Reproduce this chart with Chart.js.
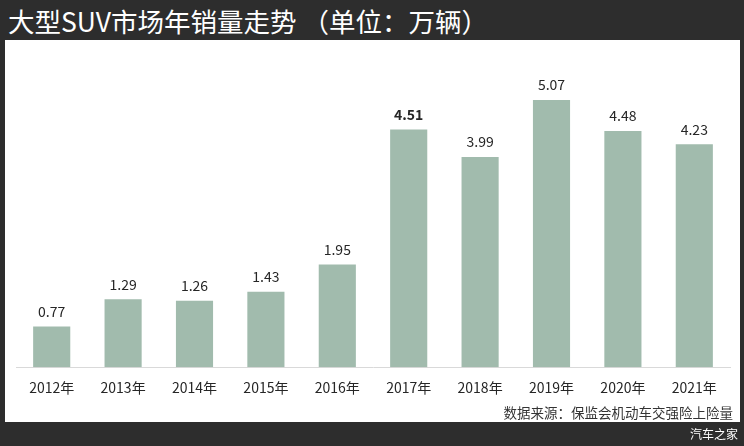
<!DOCTYPE html>
<html>
<head>
<meta charset="utf-8">
<script src="https://cdn.jsdelivr.net/npm/chart.js@4"></script>
<style>
  html, body { margin: 0; padding: 0; }
  body { width: 744px; height: 446px; background: #2d2d2d; position: relative; overflow: hidden;
         font-family: "Noto Sans CJK SC", "Noto Sans", sans-serif; }
  #title { position: absolute; left: 8px; top: 3px; color: #fff; font-size: 26.5px; line-height: 36px; white-space: nowrap; }
  #panel { position: absolute; left: 5px; top: 40px; width: 735px; height: 382px; background: #fff; }
  #wrap { position: absolute; left: 0; top: 0; width: 735px; height: 368px; }
  #source { position: absolute; right: 7px; top: 362px; font-size: 13.5px; color: #333; white-space: nowrap; }
  #mark { position: absolute; right: 6px; top: 425px; font-size: 12px; color: #fff; white-space: nowrap; }
</style>
</head>
<body>
<div id="title">大型SUV市场年销量走势 （单位：万辆）</div>
<div id="panel">
  <div id="wrap"><canvas id="chart"></canvas></div>
  <div id="source">数据来源：保监会机动车交强险上险量</div>
</div>
<div id="mark">汽车之家</div>
<script>
var years = ['2012年', '2013年', '2014年', '2015年', '2016年', '2017年', '2018年', '2019年', '2020年', '2021年'];
var sales = [0.77, 1.29, 1.26, 1.43, 1.95, 4.51, 3.99, 5.07, 4.48, 4.23];
var boldIndex = [5]; // 2017 label is bold in the original

// draws the value above each bar
const valueLabels = {
  id: 'valueLabels',
  afterDatasetsDraw(chart) {
    const ctx = chart.ctx;
    const meta = chart.getDatasetMeta(0);
    ctx.save();
    ctx.fillStyle = '#262626';
    ctx.textAlign = 'center';
    ctx.textBaseline = 'bottom';
    meta.data.forEach((bar, i) => {
      const bold = boldIndex.includes(i) ? 'bold ' : '';
      ctx.font = bold + '14px "Noto Sans CJK SC", "Noto Sans", sans-serif';
      ctx.fillText(sales[i].toFixed(2), bar.x, bar.y - 8);
    });
    ctx.restore();
  },
};

const config = {
  type: 'bar',
  data: {
    labels: years,
    datasets: [
      {
        data: sales,
        backgroundColor: '#a1bbad',
        barPercentage: 0.52,
        categoryPercentage: 1,
      },
    ],
  },
  options: {
    responsive: true,
    maintainAspectRatio: false,
    animation: false,
    layout: { padding: { left: 11, right: 10, top: 11, bottom: 0 } },
    plugins: {
      legend: { display: false },
      tooltip: { enabled: false },
    },
    scales: {
      x: {
        grid: { display: false, drawTicks: false },
        border: { display: true, color: '#d9d9d9', width: 1 },
        ticks: {
          color: '#262626',
          padding: 12,
          font: { family: '"Noto Sans CJK SC", "Noto Sans", sans-serif', size: 14 },
        },
      },
      y: {
        display: false,
        min: 0,
        max: 6,
      },
    },
  },
  plugins: [valueLabels],
};

var myChart = new Chart(document.getElementById('chart'), config);
</script>
</body>
</html>
